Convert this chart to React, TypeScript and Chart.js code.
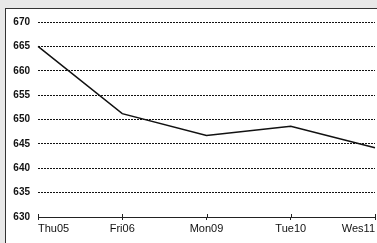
import React, { useEffect, useRef } from "react";
import { Chart, registerables } from "chart.js";

Chart.register(...registerables);

const categories = ["Thu05", "Fri06", "Mon09", "Tue10", "Wes11"];
const seriesValues = [665, 651.2, 646.7, 648.6, 644.2];
const yMin = 630;
const yMax = 670;
const yStep = 5;

const tickAbove = {
  id: "tickAbove",
  afterDraw(chart: any) {
    const x = chart.scales.x;
    const ctx = chart.ctx;
    const bottom = chart.chartArea.bottom;
    ctx.save();
    ctx.strokeStyle = "#222";
    ctx.lineWidth = 1;
    x.ticks.forEach((_t: any, i: number) => {
      const px = Math.round(x.getPixelForTick(i)) + 0.5;
      ctx.beginPath();
      ctx.moveTo(px, bottom - 3);
      ctx.lineTo(px, bottom);
      ctx.stroke();
    });
    ctx.restore();
  },
};

export default function App() {
  const ref = useRef<HTMLCanvasElement>(null);
  useEffect(() => {
    if (!ref.current) return;
    const chart = new Chart(ref.current, {
      type: "line",
      data: {
        labels: categories,
        datasets: [
          {
            data: seriesValues,
            borderColor: "#111",
            borderWidth: 1.5,
            pointRadius: 0,
            tension: 0,
            fill: false,
          },
        ],
      },
      options: {
        animation: false,
        responsive: false,
        maintainAspectRatio: false,
        layout: { padding: { left: 0, right: 1, top: 22, bottom: 0 } },
        plugins: { legend: { display: false }, tooltip: { enabled: false } },
        scales: {
          x: {
            offset: false,
            grid: {
              drawOnChartArea: false,
              drawTicks: true,
              tickLength: 3,
              color: "#222",
            },
            border: { display: true, color: "#222", width: 1 },
            ticks: {
              align: "inner",
              padding: 2,
              maxRotation: 0,
              autoSkip: false,
              color: "#111",
              font: { family: "'Liberation Sans', Arial, sans-serif", size: 11 },
            },
            afterFit: (s: any) => {
              s.height = 26;
            },
          },
          y: {
            min: yMin,
            max: yMax,
            grid: { drawTicks: false, color: "#111", lineWidth: 1 },
            border: { display: false, dash: [2, 1] },
            ticks: {
              stepSize: yStep,
              padding: 8,
              color: "#111",
              font: {
                family: "'Liberation Sans', Arial, sans-serif",
                size: 10,
                weight: "bold",
              },
            },
            afterFit: (s: any) => {
              s.width = 38;
            },
          },
        },
      },
      plugins: [tickAbove],
    });
    return () => chart.destroy();
  }, []);

  return (
    <div
      style={{
        position: "fixed",
        left: 0,
        top: 0,
        width: 377,
        height: 243,
        background: "#e8e8e8",
        overflow: "hidden",
      }}
    >
      <div
        style={{
          position: "absolute",
          left: 5,
          top: 8,
          width: 400,
          height: 260,
          background: "#fff",
          border: "1px solid #333",
        }}
      />
      <canvas
        ref={ref}
        width={377}
        height={243}
        style={{ position: "absolute", left: 0, top: 0, width: 377, height: 243 }}
      />
    </div>
  );
}
